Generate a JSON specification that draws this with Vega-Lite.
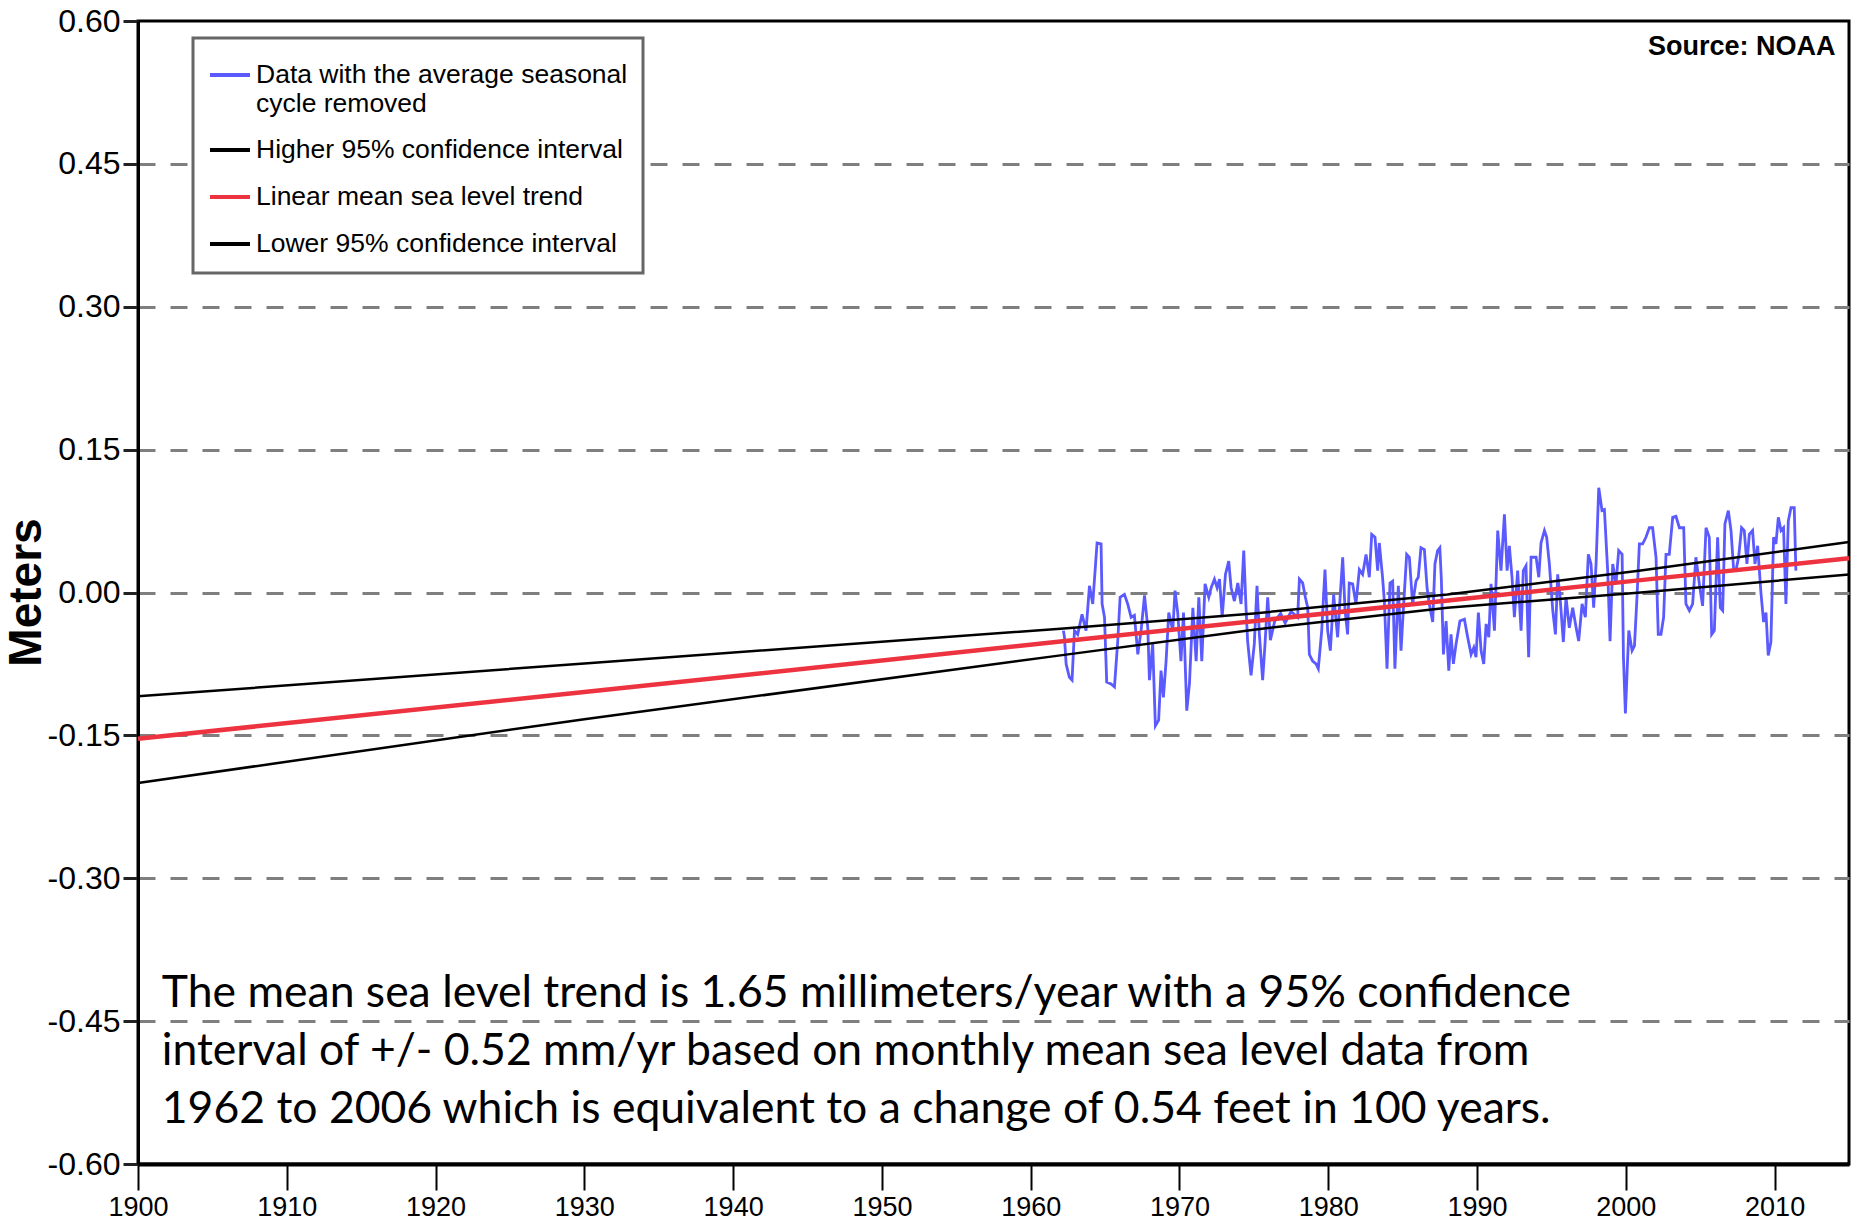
{
  "$schema": "https://vega.github.io/schema/vega-lite/v6.json",
  "width": 1711,
  "height": 1143,
  "autosize": {"type": "none"},
  "padding": {"left": 138, "top": 21, "right": 7, "bottom": 62},
  "background": "white",
  "config": {
    "view": {"stroke": "#000", "strokeWidth": 3},
    "legend": {"strokeWidth": 3}
  },
  "datasets": {
    "obs": [
      {"t": 1962.2, "v": -0.040}, {"t": 1962.27, "v": -0.047}, {"t": 1962.38, "v": -0.075}, {"t": 1962.6, "v": -0.089},
      {"t": 1962.78, "v": -0.092}, {"t": 1962.94, "v": -0.040}, {"t": 1963.16, "v": -0.044}, {"t": 1963.45, "v": -0.023},
      {"t": 1963.72, "v": -0.040}, {"t": 1963.95, "v": 0.007}, {"t": 1964.17, "v": -0.012}, {"t": 1964.46, "v": 0.052},
      {"t": 1964.73, "v": 0.051}, {"t": 1964.8, "v": -0.012}, {"t": 1964.96, "v": -0.026}, {"t": 1965.11, "v": -0.094},
      {"t": 1965.4, "v": -0.096}, {"t": 1965.63, "v": -0.099}, {"t": 1965.85, "v": -0.051}, {"t": 1966.01, "v": -0.005},
      {"t": 1966.3, "v": -0.002}, {"t": 1966.52, "v": -0.012}, {"t": 1966.75, "v": -0.026}, {"t": 1966.97, "v": -0.024},
      {"t": 1967.2, "v": -0.065}, {"t": 1967.42, "v": -0.040}, {"t": 1967.65, "v": -0.003}, {"t": 1967.87, "v": -0.037},
      {"t": 1967.98, "v": -0.092}, {"t": 1968.2, "v": -0.054}, {"t": 1968.38, "v": -0.140}, {"t": 1968.6, "v": -0.134},
      {"t": 1968.76, "v": -0.082}, {"t": 1968.92, "v": -0.110}, {"t": 1969.1, "v": -0.072}, {"t": 1969.28, "v": -0.021},
      {"t": 1969.55, "v": -0.040}, {"t": 1969.7, "v": 0.002}, {"t": 1969.88, "v": -0.021}, {"t": 1970.1, "v": -0.072},
      {"t": 1970.27, "v": -0.021}, {"t": 1970.49, "v": -0.124}, {"t": 1970.67, "v": -0.096}, {"t": 1970.9, "v": -0.016},
      {"t": 1971.12, "v": -0.072}, {"t": 1971.3, "v": -0.005}, {"t": 1971.5, "v": -0.072}, {"t": 1971.72, "v": 0.009},
      {"t": 1971.97, "v": -0.005}, {"t": 1972.13, "v": 0.005}, {"t": 1972.35, "v": 0.014}, {"t": 1972.53, "v": 0.005},
      {"t": 1972.69, "v": 0.014}, {"t": 1972.87, "v": -0.026}, {"t": 1973.09, "v": 0.019}, {"t": 1973.31, "v": 0.033},
      {"t": 1973.47, "v": 0.005}, {"t": 1973.69, "v": -0.009}, {"t": 1973.92, "v": 0.010}, {"t": 1974.14, "v": -0.012},
      {"t": 1974.32, "v": 0.044}, {"t": 1974.48, "v": -0.019}, {"t": 1974.58, "v": -0.051}, {"t": 1974.81, "v": -0.087},
      {"t": 1975.03, "v": -0.054}, {"t": 1975.21, "v": 0.007}, {"t": 1975.37, "v": -0.044}, {"t": 1975.59, "v": -0.092},
      {"t": 1975.75, "v": -0.054}, {"t": 1975.93, "v": -0.005}, {"t": 1976.11, "v": -0.050}, {"t": 1976.4, "v": -0.030},
      {"t": 1976.8, "v": -0.022}, {"t": 1977.1, "v": -0.032}, {"t": 1977.5, "v": -0.020}, {"t": 1977.94, "v": -0.026},
      {"t": 1978.06, "v": 0.014}, {"t": 1978.28, "v": 0.010}, {"t": 1978.46, "v": -0.005}, {"t": 1978.62, "v": -0.016},
      {"t": 1978.73, "v": -0.065}, {"t": 1978.95, "v": -0.072}, {"t": 1979.18, "v": -0.075}, {"t": 1979.33, "v": -0.080},
      {"t": 1979.56, "v": -0.040}, {"t": 1979.78, "v": 0.024}, {"t": 1979.96, "v": -0.040}, {"t": 1980.14, "v": -0.061},
      {"t": 1980.36, "v": -0.002}, {"t": 1980.63, "v": -0.047}, {"t": 1980.81, "v": -0.002}, {"t": 1980.97, "v": 0.037},
      {"t": 1981.13, "v": -0.019}, {"t": 1981.3, "v": -0.044}, {"t": 1981.41, "v": 0.010}, {"t": 1981.64, "v": 0.009},
      {"t": 1981.86, "v": -0.012}, {"t": 1982.09, "v": 0.024}, {"t": 1982.31, "v": 0.019}, {"t": 1982.54, "v": 0.040},
      {"t": 1982.76, "v": 0.016}, {"t": 1982.92, "v": 0.061}, {"t": 1983.14, "v": 0.058}, {"t": 1983.32, "v": 0.023},
      {"t": 1983.43, "v": 0.052}, {"t": 1983.65, "v": 0.016}, {"t": 1983.77, "v": -0.009}, {"t": 1983.95, "v": -0.080},
      {"t": 1984.15, "v": 0.010}, {"t": 1984.33, "v": 0.012}, {"t": 1984.48, "v": -0.080}, {"t": 1984.71, "v": 0.007},
      {"t": 1984.89, "v": -0.061}, {"t": 1985.07, "v": -0.012}, {"t": 1985.27, "v": 0.040}, {"t": 1985.45, "v": 0.037},
      {"t": 1985.67, "v": -0.012}, {"t": 1985.9, "v": 0.012}, {"t": 1986.05, "v": 0.016}, {"t": 1986.23, "v": 0.047},
      {"t": 1986.46, "v": 0.045}, {"t": 1986.64, "v": 0.005}, {"t": 1986.79, "v": -0.012}, {"t": 1987.02, "v": -0.031},
      {"t": 1987.17, "v": 0.030}, {"t": 1987.35, "v": 0.044}, {"t": 1987.5, "v": 0.047}, {"t": 1987.6, "v": 0.014},
      {"t": 1987.74, "v": -0.065}, {"t": 1987.92, "v": -0.030}, {"t": 1988.1, "v": -0.082}, {"t": 1988.25, "v": -0.044},
      {"t": 1988.41, "v": -0.075}, {"t": 1988.59, "v": -0.054}, {"t": 1988.85, "v": -0.030}, {"t": 1989.15, "v": -0.028},
      {"t": 1989.37, "v": -0.047}, {"t": 1989.6, "v": -0.065}, {"t": 1989.78, "v": -0.058}, {"t": 1989.93, "v": -0.068},
      {"t": 1990.09, "v": -0.021}, {"t": 1990.27, "v": -0.061}, {"t": 1990.45, "v": -0.075}, {"t": 1990.61, "v": -0.033},
      {"t": 1990.79, "v": -0.047}, {"t": 1990.94, "v": 0.009}, {"t": 1991.17, "v": -0.040}, {"t": 1991.39, "v": 0.065},
      {"t": 1991.61, "v": 0.023}, {"t": 1991.84, "v": 0.082}, {"t": 1992.02, "v": 0.023}, {"t": 1992.17, "v": 0.049},
      {"t": 1992.35, "v": 0.016}, {"t": 1992.51, "v": -0.026}, {"t": 1992.73, "v": 0.023}, {"t": 1992.96, "v": -0.040},
      {"t": 1993.11, "v": 0.023}, {"t": 1993.29, "v": 0.028}, {"t": 1993.47, "v": -0.068}, {"t": 1993.63, "v": 0.037},
      {"t": 1993.97, "v": 0.037}, {"t": 1994.15, "v": 0.016}, {"t": 1994.3, "v": 0.052}, {"t": 1994.53, "v": 0.065},
      {"t": 1994.68, "v": 0.058}, {"t": 1994.86, "v": 0.030}, {"t": 1995.09, "v": -0.019}, {"t": 1995.27, "v": -0.044},
      {"t": 1995.42, "v": 0.019}, {"t": 1995.58, "v": -0.005}, {"t": 1995.8, "v": -0.052}, {"t": 1995.98, "v": -0.005},
      {"t": 1996.2, "v": -0.037}, {"t": 1996.43, "v": -0.016}, {"t": 1996.66, "v": -0.037}, {"t": 1996.83, "v": -0.051},
      {"t": 1997.06, "v": -0.012}, {"t": 1997.28, "v": -0.026}, {"t": 1997.48, "v": 0.040}, {"t": 1997.66, "v": 0.030},
      {"t": 1997.84, "v": -0.016}, {"t": 1998.0, "v": 0.030}, {"t": 1998.18, "v": 0.110}, {"t": 1998.4, "v": 0.086},
      {"t": 1998.56, "v": 0.087}, {"t": 1998.78, "v": 0.023}, {"t": 1998.94, "v": -0.051}, {"t": 1999.12, "v": 0.030},
      {"t": 1999.34, "v": 0.009}, {"t": 1999.52, "v": 0.044}, {"t": 1999.75, "v": 0.040}, {"t": 1999.84, "v": -0.068},
      {"t": 1999.97, "v": -0.127}, {"t": 2000.2, "v": -0.040}, {"t": 2000.42, "v": -0.061}, {"t": 2000.58, "v": -0.056},
      {"t": 2000.75, "v": -0.005}, {"t": 2000.91, "v": 0.051}, {"t": 2001.13, "v": 0.051}, {"t": 2001.35, "v": 0.058},
      {"t": 2001.58, "v": 0.068}, {"t": 2001.8, "v": 0.068}, {"t": 2002.03, "v": 0.037}, {"t": 2002.18, "v": -0.044},
      {"t": 2002.36, "v": -0.044}, {"t": 2002.54, "v": -0.026}, {"t": 2002.7, "v": 0.040}, {"t": 2002.92, "v": 0.040},
      {"t": 2003.15, "v": 0.079}, {"t": 2003.37, "v": 0.080}, {"t": 2003.6, "v": 0.068}, {"t": 2003.89, "v": 0.068},
      {"t": 2004.04, "v": -0.012}, {"t": 2004.27, "v": -0.019}, {"t": 2004.49, "v": -0.012}, {"t": 2004.71, "v": 0.037},
      {"t": 2004.94, "v": 0.009}, {"t": 2005.16, "v": -0.014}, {"t": 2005.39, "v": 0.068}, {"t": 2005.61, "v": 0.058},
      {"t": 2005.77, "v": -0.044}, {"t": 2005.95, "v": -0.040}, {"t": 2006.17, "v": 0.058}, {"t": 2006.35, "v": -0.016},
      {"t": 2006.51, "v": -0.019}, {"t": 2006.66, "v": 0.072}, {"t": 2006.89, "v": 0.086}, {"t": 2007.07, "v": 0.065},
      {"t": 2007.25, "v": 0.023}, {"t": 2007.4, "v": 0.023}, {"t": 2007.58, "v": 0.037}, {"t": 2007.78, "v": 0.068},
      {"t": 2007.96, "v": 0.065}, {"t": 2008.14, "v": 0.030}, {"t": 2008.3, "v": 0.061}, {"t": 2008.52, "v": 0.065},
      {"t": 2008.68, "v": 0.030}, {"t": 2008.86, "v": 0.049}, {"t": 2009.08, "v": 0.000}, {"t": 2009.26, "v": -0.031},
      {"t": 2009.42, "v": -0.021}, {"t": 2009.57, "v": -0.066}, {"t": 2009.75, "v": -0.052}, {"t": 2009.93, "v": 0.058},
      {"t": 2010.09, "v": 0.051}, {"t": 2010.25, "v": 0.079}, {"t": 2010.43, "v": 0.065}, {"t": 2010.6, "v": 0.068},
      {"t": 2010.76, "v": -0.012}, {"t": 2010.92, "v": 0.075}, {"t": 2011.1, "v": 0.089}, {"t": 2011.32, "v": 0.089},
      {"t": 2011.43, "v": 0.023}
    ],
    "trend": [
      {"series": "Higher 95% confidence interval", "t": 1900, "v": -0.109},
      {"series": "Higher 95% confidence interval", "t": 1930, "v": -0.0745},
      {"series": "Higher 95% confidence interval", "t": 1962, "v": -0.038},
      {"series": "Higher 95% confidence interval", "t": 1975, "v": -0.022},
      {"series": "Higher 95% confidence interval", "t": 1988, "v": -0.002},
      {"series": "Higher 95% confidence interval", "t": 2001, "v": 0.023},
      {"series": "Higher 95% confidence interval", "t": 2015, "v": 0.053},
      {"series": "Linear mean sea level trend", "t": 1900, "v": -0.1535},
      {"series": "Linear mean sea level trend", "t": 1930, "v": -0.1045},
      {"series": "Linear mean sea level trend", "t": 1962, "v": -0.0515},
      {"series": "Linear mean sea level trend", "t": 2001, "v": 0.013},
      {"series": "Linear mean sea level trend", "t": 2015, "v": 0.036},
      {"series": "Lower 95% confidence interval", "t": 1900, "v": -0.200},
      {"series": "Lower 95% confidence interval", "t": 1930, "v": -0.133},
      {"series": "Lower 95% confidence interval", "t": 1962, "v": -0.066},
      {"series": "Lower 95% confidence interval", "t": 1975, "v": -0.039},
      {"series": "Lower 95% confidence interval", "t": 1988, "v": -0.016},
      {"series": "Lower 95% confidence interval", "t": 2001, "v": 0.000},
      {"series": "Lower 95% confidence interval", "t": 2015, "v": 0.019}
    ]
  },
  "layer": [
    {
      "encoding": {
        "x": {
          "field": "t", "type": "quantitative",
          "scale": {"domain": [1900, 2015], "nice": false, "zero": false},
          "axis": {
            "values": [1900, 1910, 1920, 1930, 1940, 1950, 1960, 1970, 1980, 1990, 2000, 2010],
            "format": "d", "title": null, "grid": false,
            "labelFont": "Liberation Sans, Arial, sans-serif",
            "labelFontSize": 27, "labelColor": "#000", "labelPadding": 4,
            "labelFlush": false, "labelOverlap": false,
            "tickColor": "#000", "tickSize": 26, "tickWidth": 2,
            "domainColor": "#000", "domainWidth": 4
          }
        },
        "y": {
          "field": "v", "type": "quantitative",
          "scale": {"domain": [-0.6, 0.6], "nice": false, "zero": false},
          "axis": {
            "values": [-0.6, -0.45, -0.3, -0.15, 0, 0.15, 0.3, 0.45, 0.6],
            "labelExpr": "replace(format(datum.value, '.2f'), '\u2212', '-')",
            "labelFont": "Liberation Sans, Arial, sans-serif",
            "labelFontSize": 32, "labelColor": "#000", "labelPadding": 3,
            "labelFlush": false, "labelOverlap": false,
            "tickColor": "#222", "tickSize": 15, "tickWidth": 3,
            "domainColor": "#000", "domainWidth": 3,
            "grid": true, "gridColor": "#7f7f7f", "gridWidth": 3, "gridDash": [17, 15],
            "gridOpacity": {"condition": {"test": "abs(datum.value) > 0.59", "value": 0}, "value": 1},
            "title": "Meters",
            "titleFont": "Liberation Sans, Arial, sans-serif", "titleFontSize": 46, "titleFontWeight": "bold",
            "titleColor": "#000", "titleAngle": 270, "titleX": -112, "titleY": 571,
            "titleAlign": "center", "titleBaseline": "middle"
          }
        }
      },
      "layer": [
        {
          "data": {"name": "obs"},
          "mark": {"type": "line", "strokeWidth": 2.8},
          "encoding": {
            "color": {
              "datum": "Data with the average seasonal cycle removed", "type": "nominal", "title": null,
              "scale": {
                "domain": ["Data with the average seasonal cycle removed", "Higher 95% confidence interval", "Linear mean sea level trend", "Lower 95% confidence interval"],
                "range": ["#5a5aff", "#000000", "#ee3340", "#000000"]
              },
              "legend": {
                "orient": "none", "legendX": 55, "legendY": 17, "title": null,
                "symbolType": "stroke", "symbolSize": 1600, "symbolStrokeWidth": 4,
                "labelFont": "Liberation Sans, Arial, sans-serif",
                "labelFontSize": 26.5, "labelColor": "#000", "labelLimit": 0, "labelOffset": 4,
                "padding": 15, "rowPadding": 11,
                "strokeColor": "#666666", "fillColor": "#ffffff",
                "labelExpr": "datum.label == 'Data with the average seasonal cycle removed' ? ['Data with the average seasonal', 'cycle removed'] : datum.label"
              }
            }
          }
        },
        {
          "data": {"name": "trend"},
          "transform": [{"filter": "datum.series != 'Linear mean sea level trend'"}],
          "mark": {"type": "line", "strokeWidth": 2.5},
          "encoding": {
            "color": {"field": "series", "type": "nominal", "title": null},
            "detail": {"field": "series"}
          }
        },
        {
          "data": {"name": "trend"},
          "transform": [{"filter": "datum.series == 'Linear mean sea level trend'"}],
          "mark": {"type": "line", "strokeWidth": 4.5},
          "encoding": {
            "color": {"field": "series", "type": "nominal", "title": null}
          }
        }
      ]
    },
    {
      "data": {"values": [{}]},
      "mark": {"type": "text", "align": "right", "baseline": "middle", "fontWeight": "bold",
               "font": "Liberation Sans, Arial, sans-serif", "fontSize": 27, "color": "#000"},
      "encoding": {
        "x": {"datum": 2014.1, "type": "quantitative"},
        "y": {"datum": 0.573, "type": "quantitative"},
        "text": {"value": "Source: NOAA"}
      }
    },
    {
      "data": {"values": [{}]},
      "mark": {"type": "text", "align": "left", "baseline": "middle", "font": "Lato, sans-serif",
               "fontSize": 44.5, "lineHeight": 58, "color": "#000"},
      "encoding": {
        "x": {"datum": 1901.6, "type": "quantitative"},
        "y": {"datum": -0.4215, "type": "quantitative"},
        "text": {"value": ["The mean sea level trend is 1.65 millimeters/year with a 95% confidence", "interval of +/- 0.52 mm/yr based on monthly mean sea level data from", "1962 to 2006 which is equivalent to a change of 0.54 feet in 100 years."]}
      }
    }
  ]
}
